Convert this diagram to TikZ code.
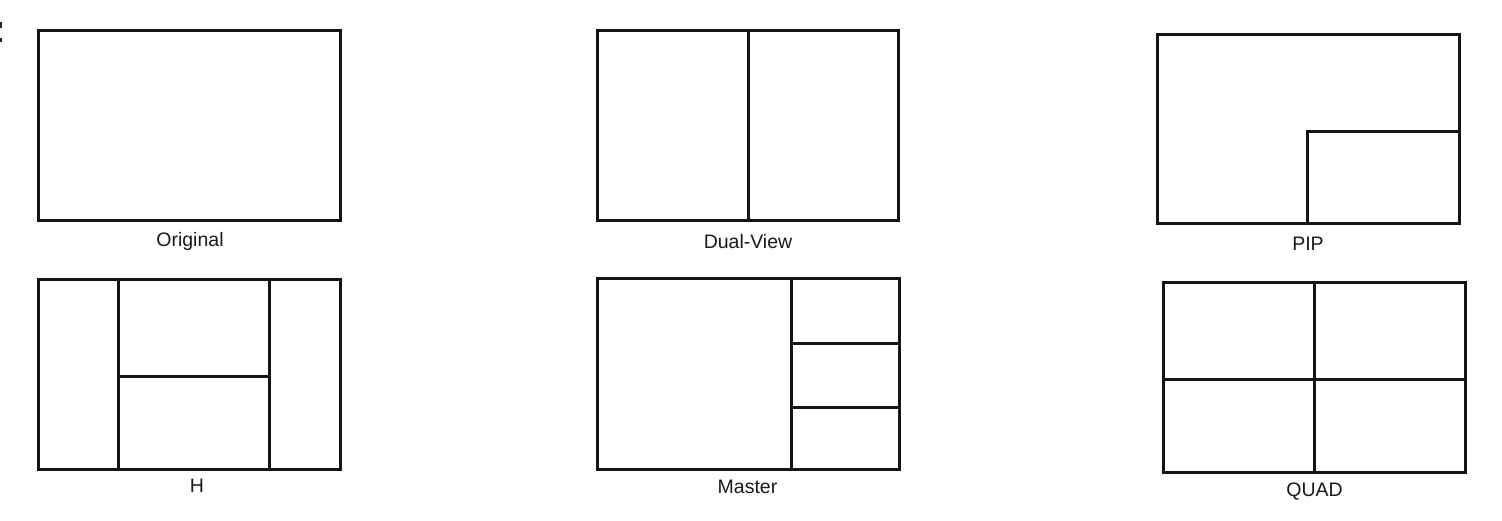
\documentclass[tikz,border=0pt]{standalone}
\usepackage{fontspec}
\setmainfont{Liberation Sans}
\begin{document}
\begin{tikzpicture}[x=1pt,y=-1pt,
  frame/.style={draw=black!92,line width=3pt,line join=miter},
  div/.style={draw=black!92,line width=3pt},
  lbl/.style={anchor=base,inner sep=0pt,font=\fontsize{19.5}{23}\selectfont,text=black!90}]
\useasboundingbox (0,0) rectangle (1502,520);
% tiny mark at left edge
\fill[black!85] (0,22) rectangle (2,28);
\fill[black!85] (0,38) rectangle (2,42);
% Original
\draw[frame] (38,30) rectangle (340,220);
\node[lbl] (l1) at (190,246) {Original};
% Dual-View
\draw[frame] (597,30) rectangle (898,220);
\draw[div] (748,30) -- (748,220);
\node[lbl] (l2) at (748,248) {Dual-View};
% PIP
\draw[frame] (1157,34) rectangle (1459,223);
\draw[div] (1307,223) -- (1307,131) -- (1458,131);
\node[lbl] (l3) at (1308,250) {PIP};
% H
\draw[frame] (38,279) rectangle (340,469);
\draw[div] (118,279) -- (118,469);
\draw[div] (269,279) -- (269,469);
\draw[div] (118,376) -- (269,376);
\node[lbl] (l4) at (197,492) {H};
% Master
\draw[frame] (597,278) rectangle (899,469);
\draw[div] (791,278) -- (791,469);
\draw[div] (791,343) -- (899,343);
\draw[div] (791,407) -- (899,407);
\node[lbl] (l5) at (747.5,493) {Master};
% QUAD
\draw[frame] (1163,282) rectangle (1465,472);
\draw[div] (1314,282) -- (1314,472);
\draw[div] (1163,379) -- (1465,379);
\node[lbl] (l6) at (1314.5,496) {QUAD};
\end{tikzpicture}
\end{document}
